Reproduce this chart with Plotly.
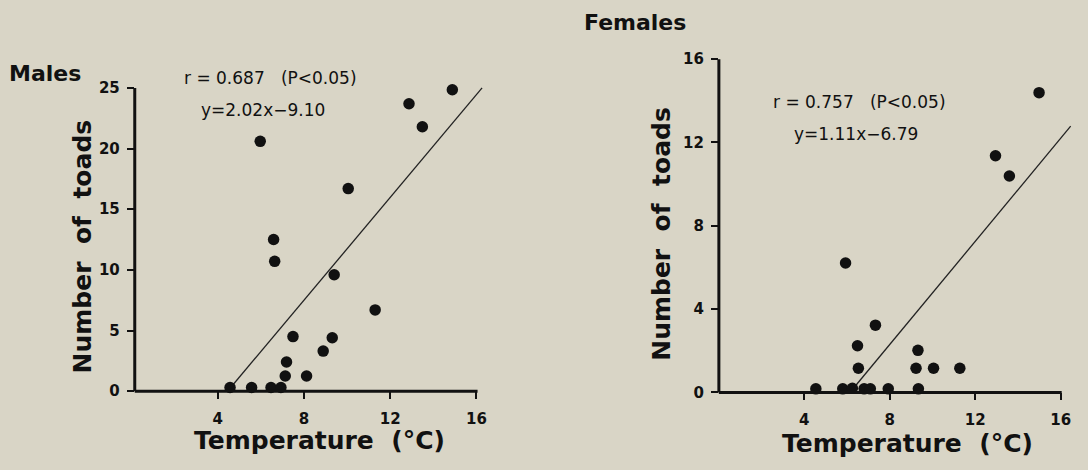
import plotly.graph_objects as go

# ---------------- data ----------------
male_temp = [4.57, 5.57, 6.47, 6.93, 5.97, 6.59, 6.64, 7.49, 7.19, 7.13, 8.12,
             8.89, 9.31, 9.40, 10.05, 11.30, 12.87, 13.49, 14.88]
male_count = [0.3, 0.3, 0.3, 0.3, 20.6, 12.5, 10.7, 4.5, 2.4, 1.25, 1.25,
              3.3, 4.4, 9.6, 16.7, 6.7, 23.7, 21.8, 24.85]
male_fit_x = [4.6, 16.26]
male_fit_y = [0.3, 25.0]

female_temp = [4.54, 5.80, 6.25, 6.80, 7.09, 7.93, 9.34, 5.93, 6.49, 6.53, 7.33,
               9.32, 9.23, 10.05, 11.28, 12.95, 13.60, 14.99]
female_count = [0.17, 0.17, 0.2, 0.17, 0.17, 0.17, 0.17, 6.21, 2.24, 1.16, 3.23,
                2.02, 1.16, 1.16, 1.16, 11.36, 10.39, 14.39]
female_fit_x = [6.31, 16.47]
female_fit_y = [0.21, 12.78]

x_ticks = [4, 8, 12, 16]
male_y_ticks = [0, 5, 10, 15, 20, 25]
female_y_ticks = [0, 4, 8, 12, 16]

male_stats = ["r\u00a0=\u00a00.687\u00a0\u00a0\u00a0(P<0.05)", "y=2.02x\u22129.10"]
female_stats = ["r\u00a0=\u00a00.757\u00a0\u00a0\u00a0(P<0.05)", "y=1.11x\u22126.79"]
panel_titles = ["Males", "Females"]
x_title = "Temperature\u00a0\u00a0(\u00b0C)"
y_title = "Number\u00a0\u00a0of\u00a0\u00a0toads"

# ---------------- style ----------------
W, H = 1088, 470
BG = "#d9d5c6"
INK = "#111111"
FONT = "DejaVu Sans"


def px(x):
    return x / W


def py(y):
    return 1 - y / H


# axis geometry (pixel domains) and ranges
L_XDOM, L_XR = (135, 486), (0.15, 16.4)
L_YDOM, L_YR = (398, 81.75), (0, 25.3)
R_XDOM, R_XR = (720.2, 1073.3), (0, 16.5)
R_YDOM, R_YR = (399.3, 51.5), (0, 16.2)


def to_paper(v, dom, rng, fn):
    p = dom[0] + (v - rng[0]) / (rng[1] - rng[0]) * (dom[1] - dom[0])
    return fn(p)


fig = go.Figure()

fig.add_trace(go.Scatter(x=male_fit_x, y=male_fit_y, mode="lines",
                         line=dict(color="#222", width=1.3), xaxis="x", yaxis="y",
                         showlegend=False, hoverinfo="skip"))
fig.add_trace(go.Scatter(x=male_temp, y=male_count, mode="markers",
                         marker=dict(color=INK, size=11.5), xaxis="x", yaxis="y",
                         cliponaxis=False, showlegend=False))
fig.add_trace(go.Scatter(x=female_fit_x, y=female_fit_y, mode="lines",
                         line=dict(color="#222", width=1.3), xaxis="x2", yaxis="y2",
                         showlegend=False, hoverinfo="skip"))
fig.add_trace(go.Scatter(x=female_temp, y=female_count, mode="markers",
                         marker=dict(color=INK, size=11.5), xaxis="x2", yaxis="y2",
                         cliponaxis=False, showlegend=False))

tickfont = dict(family=FONT, size=15, color=INK, weight="bold")
axis_common = dict(showgrid=False, zeroline=False, showline=False, ticks="outside",
                   ticklen=7, tickwidth=2, tickcolor=INK, tickfont=tickfont,
                   tickmode="array")

fig.update_layout(
    width=W, height=H,
    margin=dict(l=0, r=0, t=0, b=0),
    paper_bgcolor=BG, plot_bgcolor=BG,
    xaxis=dict(domain=[px(L_XDOM[0]), px(L_XDOM[1])], range=list(L_XR), tickvals=x_ticks,
               anchor="y", ticklabelstandoff=7, **axis_common),
    yaxis=dict(domain=[py(L_YDOM[0]), py(L_YDOM[1])], range=list(L_YR), tickvals=male_y_ticks,
               anchor="x", ticklabelstandoff=4, **axis_common),
    xaxis2=dict(domain=[px(R_XDOM[0]), px(R_XDOM[1])], range=list(R_XR), tickvals=x_ticks,
                anchor="y2", ticklabelstandoff=7, **axis_common),
    yaxis2=dict(domain=[py(R_YDOM[0]), py(R_YDOM[1])], range=list(R_YR), tickvals=female_y_ticks,
                anchor="x2", ticklabelstandoff=4, **axis_common),
)

# axis lines (paper coordinates so they are not clipped)
for xdom, xr, ydom, yr, xend, ytop in [(L_XDOM, L_XR, L_YDOM, L_YR, 16.05, 25),
                                       (R_XDOM, R_XR, R_YDOM, R_YR, 16.05, 16)]:
    x0 = to_paper(xr[0], xdom, xr, px)
    x1 = to_paper(xend, xdom, xr, px)
    y0 = to_paper(0, ydom, yr, py)
    y1 = to_paper(ytop, ydom, yr, py)
    fig.add_shape(type="line", xref="paper", yref="paper", x0=x0, x1=x1, y0=y0, y1=y0,
                  line=dict(color=INK, width=3))
    fig.add_shape(type="line", xref="paper", yref="paper", x0=x0, x1=x0, y0=y0, y1=y1,
                  line=dict(color=INK, width=3))

big = dict(family=FONT, size=25, color=INK, weight="bold")
small = dict(family=FONT, size=17, color=INK)
annots = [
    dict(text=panel_titles[0], x=px(7), y=py(71), xanchor="left", yanchor="middle",
         font=dict(family=FONT, size=22, color=INK, weight="bold")),
    dict(text=panel_titles[1], x=px(583), y=py(18), xanchor="left", yanchor="middle",
         font=dict(family=FONT, size=22, color=INK, weight="bold")),
    dict(text=x_title, x=px(320), y=py(449), xanchor="center", yanchor="middle", font=big),
    dict(text=x_title, x=px(909), y=py(452), xanchor="center", yanchor="middle", font=big),
    dict(text=y_title, x=px(83), y=py(249), xanchor="center", yanchor="middle",
         textangle=-90, font=big),
    dict(text=y_title, x=px(663), y=py(236), xanchor="center", yanchor="middle",
         textangle=-90, font=big),
    dict(text=male_stats[0], x=px(271), y=py(75), xanchor="center", yanchor="middle", font=small),
    dict(text=male_stats[1], x=px(263), y=py(108), xanchor="center", yanchor="middle", font=small),
    dict(text=female_stats[0], x=px(861), y=py(100), xanchor="center", yanchor="middle", font=small),
    dict(text=female_stats[1], x=px(858), y=py(133), xanchor="center", yanchor="middle", font=small),
]
for a in annots:
    fig.add_annotation(xref="paper", yref="paper", showarrow=False, **a)

fig.write_html("out.html")
